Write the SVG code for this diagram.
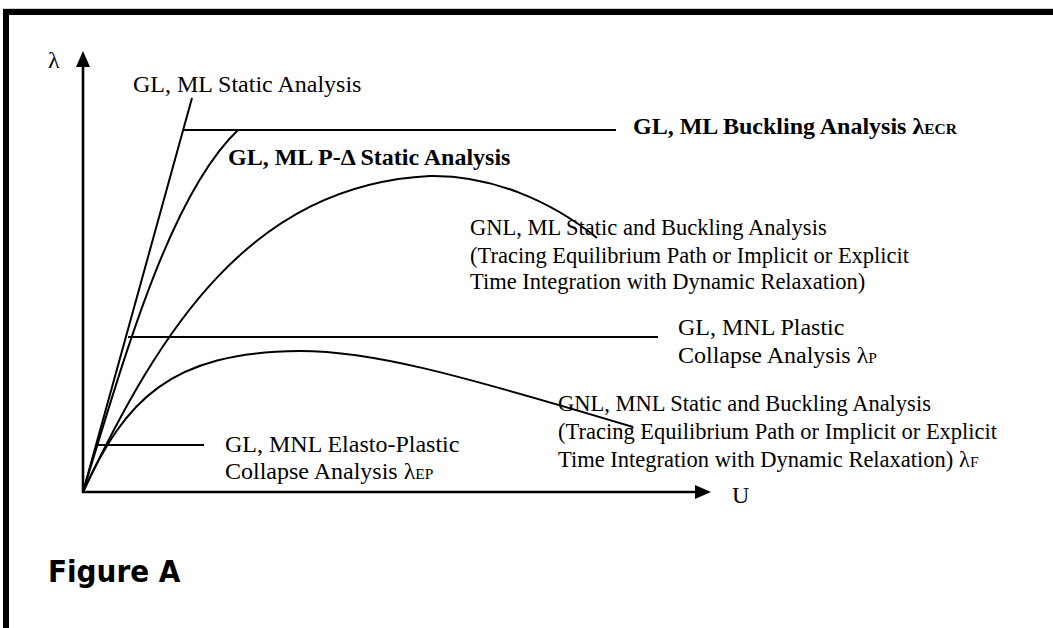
<svg xmlns="http://www.w3.org/2000/svg" width="1053" height="628" viewBox="0 0 1053 628">
  <style>
    .lbl { font-family: "Liberation Serif", "Times New Roman", serif; font-size: 22.5px; fill: #000; }
    .big { font-size: 24px; }
    .bold { font-weight: bold; font-size: 24px; }
    .sub { font-size: 15.5px; }
    .curve { fill: none; stroke: #000; stroke-width: 2; }
    .axis { fill: none; stroke: #000; stroke-width: 2.6; }
    .head { fill: #000; stroke: none; }
    .title { font-family: "DejaVu Sans Condensed", "DejaVu Sans", "Liberation Sans", sans-serif; font-weight: bold; font-size: 31px; fill: #000; }
  </style>

  <rect x="0" y="0" width="1053" height="628" fill="#fff"/>

  <!-- frame -->
  <g id="frame">
    <line x1="3" y1="8.5" x2="1053" y2="8.5" stroke="#d0d0d0" stroke-width="1"/>
    <rect x="3" y="9" width="1050" height="6" fill="#000"/>
    <rect x="3" y="9" width="6" height="619" fill="#000"/>
  </g>

  <!-- axes -->
  <g id="axes">
    <line class="axis" x1="83" y1="493" x2="83" y2="64"/>
    <polygon class="head" points="83,51 90,67 76,67"/>
    <line class="axis" x1="82" y1="492" x2="697" y2="492"/>
    <polygon class="head" points="711,492 695,485 695,499"/>
    <text class="lbl big" x="48" y="68">λ</text>
    <text class="lbl big" x="732" y="503">U</text>
  </g>

  <!-- load–displacement paths and limit levels -->
  <g id="connectors">
    <!-- linear static -->
    <line class="curve" x1="83" y1="492" x2="192" y2="98"/>
    <!-- elastic critical load level -->
    <line class="curve" x1="183" y1="130" x2="616" y2="130"/>
    <!-- P-delta -->
    <path class="curve" d="M83,492 C125,355 170,195 238,130"/>
    <!-- GNL, ML -->
    <path class="curve" d="M83,492 C160,330 250,185 430,176 C490,175 550,200 597,238"/>
    <!-- plastic collapse level -->
    <line class="curve" x1="128" y1="337" x2="658" y2="337"/>
    <!-- GNL, MNL -->
    <path class="curve" d="M83,492 C125,400 170,352 300,351 C370,351 450,372 633,427"/>
    <!-- elasto-plastic collapse level -->
    <line class="curve" x1="97" y1="445" x2="204" y2="445"/>
  </g>

  <g id="static-analysis">
    <text class="lbl big" x="133" y="92">GL, ML Static Analysis</text>
  </g>

  <g id="buckling-analysis">
    <text class="lbl bold" x="633" y="134">GL, ML Buckling Analysis λ<tspan class="sub">ECR</tspan></text>
  </g>

  <g id="p-delta-analysis">
    <text class="lbl bold" x="228" y="165">GL, ML P-Δ Static Analysis</text>
  </g>

  <g id="gnl-ml-analysis">
    <text class="lbl" x="470" y="235">GNL, ML Static and Buckling Analysis</text>
    <text class="lbl" x="470" y="263">(Tracing Equilibrium Path or Implicit or Explicit</text>
    <text class="lbl" x="470" y="289">Time Integration with Dynamic Relaxation)</text>
  </g>

  <g id="plastic-collapse">
    <text class="lbl big" x="678" y="335">GL, MNL Plastic</text>
    <text class="lbl big" x="678" y="363">Collapse Analysis λ<tspan class="sub">P</tspan></text>
  </g>

  <g id="gnl-mnl-analysis">
    <text class="lbl" x="558" y="411">GNL, MNL Static and Buckling Analysis</text>
    <text class="lbl" x="558" y="439">(Tracing Equilibrium Path or Implicit or Explicit</text>
    <text class="lbl" x="558" y="467">Time Integration with Dynamic Relaxation) λ<tspan class="sub">F</tspan></text>
  </g>

  <g id="elasto-plastic-collapse">
    <text class="lbl big" x="225" y="452">GL, MNL Elasto-Plastic</text>
    <text class="lbl big" x="225" y="479">Collapse Analysis λ<tspan class="sub">EP</tspan></text>
  </g>

  <g id="caption">
    <text class="title" x="48" y="582">Figure A</text>
  </g>
</svg>
